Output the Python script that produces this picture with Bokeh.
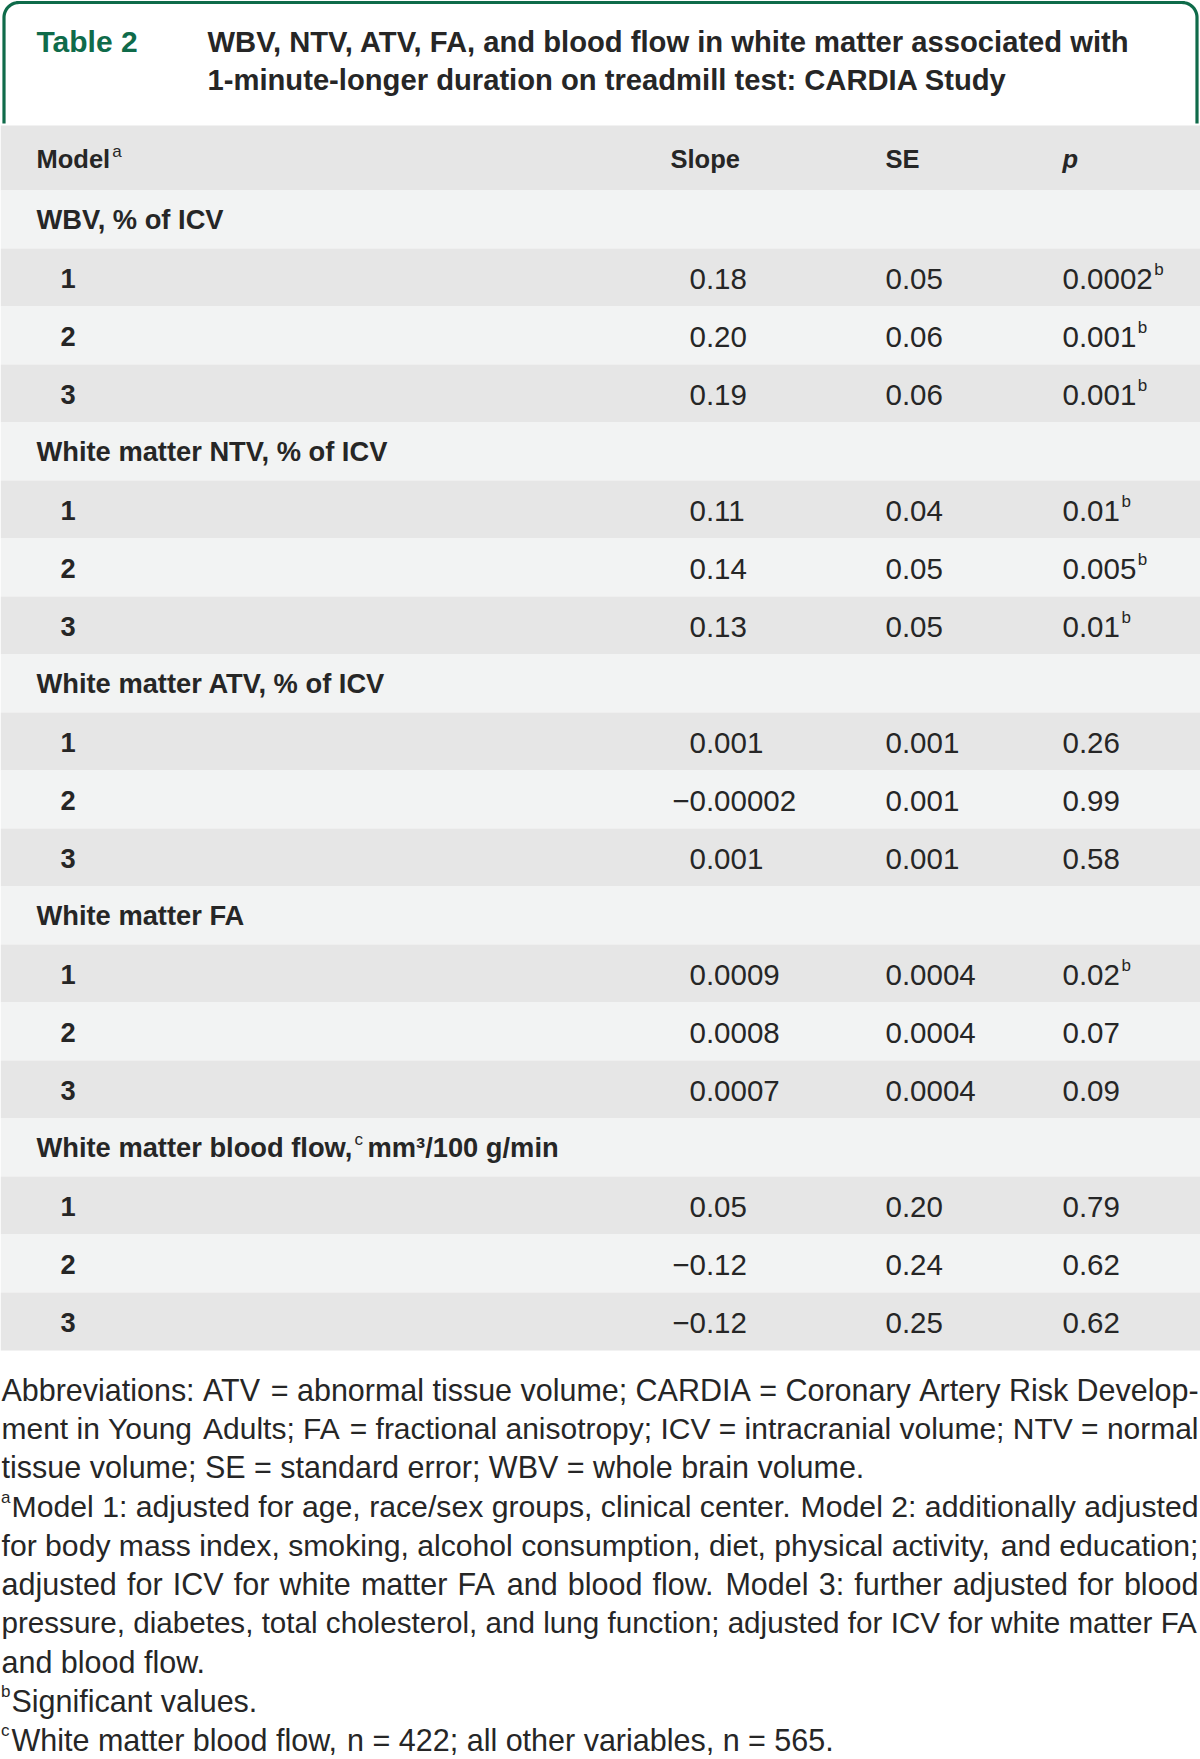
from bokeh.plotting import figure
from bokeh.models import Range1d, ColumnDataSource
from bokeh.core.properties import value
from bokeh.embed import file_html
from bokeh.resources import INLINE
import numpy as np

# ---------------- data ----------------
table_label = "Table 2"
title_lines = ["WBV, NTV, ATV, FA, and blood flow in white matter associated with",
               "1-minute-longer duration on treadmill test: CARDIA Study"]
col_headers = ["Model", "Slope", "SE", "p"]
header_note = "a"
groups = ["WBV, % of ICV", "White matter NTV, % of ICV", "White matter ATV, % of ICV",
          "White matter FA", "White matter blood flow,"]
group_notes = ["", "", "", "", "c"]
group_units = ["", "", "", "", "mm³/100 g/min"]
models = ["1", "2", "3"]
slope_vals = [["0.18", "0.20", "0.19"],
              ["0.11", "0.14", "0.13"],
              ["0.001", "−0.00002", "0.001"],
              ["0.0009", "0.0008", "0.0007"],
              ["0.05", "−0.12", "−0.12"]]
se_vals = [["0.05", "0.06", "0.06"],
           ["0.04", "0.05", "0.05"],
           ["0.001", "0.001", "0.001"],
           ["0.0004", "0.0004", "0.0004"],
           ["0.20", "0.24", "0.25"]]
p_vals = [["0.0002", "0.001", "0.001"],
          ["0.01", "0.005", "0.01"],
          ["0.26", "0.99", "0.58"],
          ["0.02", "0.07", "0.09"],
          ["0.79", "0.62", "0.62"]]
p_sig = [[True, True, True],
         [True, True, True],
         [False, False, False],
         [True, False, False],
         [False, False, False]]
sig_note = "b"
footnotes = [
    ("", "Abbreviations: ATV = abnormal tissue volume; CARDIA = Coronary Artery Risk Develop-", True),
    ("", "ment in Young Adults; FA = fractional anisotropy; ICV = intracranial volume; NTV = normal", True),
    ("", "tissue volume; SE = standard error; WBV = whole brain volume.", False),
    ("a", "Model 1: adjusted for age, race/sex groups, clinical center. Model 2: additionally adjusted", True),
    ("", "for body mass index, smoking, alcohol consumption, diet, physical activity, and education;", True),
    ("", "adjusted for ICV for white matter FA and blood flow. Model 3: further adjusted for blood", True),
    ("", "pressure, diabetes, total cholesterol, and lung function; adjusted for ICV for white matter FA", True),
    ("", "and blood flow.", False),
    ("b", "Significant values.", False),
    ("c", "White matter blood flow, n = 422; all other variables, n = 565.", False),
]

# ---------------- metrics (Arial / Liberation Sans) ----------------
REG = {" ": 278, "!": 278, ",": 278, "-": 333, ".": 278, "/": 278, ":": 278, ";": 278,
       "=": 584, "%": 889, "−": 584, "³": 333,
       "A": 667, "B": 667, "C": 722, "D": 722, "E": 667, "F": 611, "G": 778, "H": 722,
       "I": 278, "J": 500, "K": 667, "L": 556, "M": 833, "N": 722, "O": 778, "P": 667,
       "Q": 778, "R": 722, "S": 667, "T": 611, "U": 722, "V": 667, "W": 944, "X": 667,
       "Y": 667, "Z": 611,
       "a": 556, "b": 556, "c": 500, "d": 556, "e": 556, "f": 278, "g": 556, "h": 556,
       "i": 222, "j": 222, "k": 500, "l": 222, "m": 833, "n": 556, "o": 556, "p": 556,
       "q": 556, "r": 333, "s": 500, "t": 278, "u": 556, "v": 500, "w": 722, "x": 500,
       "y": 500, "z": 500}
for d in "0123456789":
    REG[d] = 556
BOLD = {" ": 278, ",": 278, "M": 833, "W": 944, "a": 556, "b": 611, "d": 611, "e": 556,
        "f": 333, "h": 611, "i": 278, "l": 278, "m": 889, "o": 611, "r": 389, "t": 333,
        "w": 778}


def width(s, size, bold=False):
    tab = BOLD if bold else REG
    return sum(tab.get(ch, 556) for ch in s) * size / 1000.0


# ---------------- layout ----------------
W_REF, H_REF = 1200, 1759
FIG_W, FIG_H = 1200, 1759


def fs(size):
    return value(f"{size:.2f}px")


GREEN = "#0f6b4a"
TEXT = "#262626"
DARK = "#e6e6e6"
LIGHT = "#f2f3f3"
FONT = value("Liberation Sans")

HEAD_SIZE = 25.5
LABEL_SIZE = 27.3
NUM_SIZE = 29.5
SUP_SIZE = 17
FOOT_SIZE = 30.5

X_LABEL, X_MODEL = 36, 60
X_SLOPE, X_SE, X_P = 689, 885, 1062
X_SLOPE_HEAD = 670

HEAD_TOP, ROW_TOP, ROW_H = 125, 190, 58

p = figure(width=FIG_W, height=FIG_H, output_backend="svg", toolbar_location=None,
           x_range=Range1d(0, W_REF), y_range=Range1d(H_REF, 0), min_border=0)
p.axis.visible = False
p.grid.visible = False
p.outline_line_color = None
p.background_fill_color = "white"
p.border_fill_color = "white"

# rows
lefts, rights, tops, bottoms, colors = [0], [W_REF], [HEAD_TOP], [ROW_TOP], [DARK]
lab_x, lab_y, lab_t = [], [], []
num_x, num_y, num_t = [], [], []
sup_x, sup_y, sup_t = [], [], []

r = 0
for gi, g in enumerate(groups):
    top = ROW_TOP + r * ROW_H
    lefts.append(0); rights.append(W_REF); tops.append(top); bottoms.append(top + ROW_H)
    colors.append(LIGHT)
    cy = top + ROW_H / 2
    lab_x.append(X_LABEL); lab_y.append(cy); lab_t.append(g)
    if group_notes[gi]:
        gx = X_LABEL + width(g, LABEL_SIZE, True)
        sup_x.append(gx + 1); sup_y.append(cy - 8); sup_t.append(group_notes[gi])
        lab_x.append(gx + 1 + 13); lab_y.append(cy); lab_t.append(group_units[gi])
    r += 1
    for mi, m in enumerate(models):
        top = ROW_TOP + r * ROW_H
        lefts.append(0); rights.append(W_REF); tops.append(top); bottoms.append(top + ROW_H)
        colors.append(DARK if mi % 2 == 0 else LIGHT)
        cy = top + ROW_H / 2 + 1
        lab_x.append(X_MODEL); lab_y.append(cy); lab_t.append(m)
        sv = slope_vals[gi][mi]
        sx = X_SLOPE - (width("−", NUM_SIZE) if sv.startswith("−") else 0)
        num_x += [sx, X_SE, X_P]
        num_y += [cy, cy, cy]
        num_t += [sv, se_vals[gi][mi], p_vals[gi][mi]]
        if p_sig[gi][mi]:
            sup_x.append(X_P + width(p_vals[gi][mi], NUM_SIZE) + 1.5)
            sup_y.append(cy - 9)
            sup_t.append(sig_note)
        r += 1

p.quad(left=lefts, right=rights, top=tops, bottom=bottoms, fill_color=colors, line_color=None)

# header texts
hy = (HEAD_TOP + ROW_TOP) / 2 + 1
p.text(x=[X_LABEL, X_SLOPE_HEAD, X_SE], y=[hy, hy, hy], text=col_headers[:3],
       text_font=FONT, text_font_size=fs(HEAD_SIZE), text_font_style="bold",
       text_baseline="middle", text_align="left", text_color=TEXT)
sup_x.append(X_LABEL + width(col_headers[0], HEAD_SIZE, True) + 2)
sup_y.append(hy - 8)
sup_t.append(header_note)
p.text(x=[X_P], y=[hy], text=[col_headers[3]], text_font=FONT, text_font_size=fs(HEAD_SIZE),
       text_font_style="bold italic", text_baseline="middle", text_align="left", text_color=TEXT)

p.text(x="x", y="y", text="t", source=ColumnDataSource(dict(x=lab_x, y=lab_y, t=lab_t)),
       text_font=FONT, text_font_size=fs(LABEL_SIZE), text_font_style="bold",
       text_baseline="middle", text_align="left", text_color=TEXT)
p.text(x="x", y="y", text="t", source=ColumnDataSource(dict(x=num_x, y=num_y, t=num_t)),
       text_font=FONT, text_font_size=fs(NUM_SIZE), text_baseline="middle",
       text_align="left", text_color=TEXT)

# title box border
R = 15
th = np.linspace(0, np.pi / 2, 20)
xl, xr, yt, yb = 3.5, 1196.5, 2.0, 123
bx = np.concatenate([[xl], xl + R - R * np.cos(th), xr - R + R * np.sin(th), [xr]])
by = np.concatenate([[yb], yt + R - R * np.sin(th), yt + R - R * np.cos(th), [yb]])
p.line(bx, by, line_color=GREEN, line_width=3.2)

p.text(x=[X_LABEL], y=[41], text=[table_label], text_font=FONT, text_font_size=fs(30),
       text_font_style="bold", text_baseline="middle", text_color=GREEN)
p.text(x=[207, 207], y=[41, 79], text=title_lines, text_font=FONT, text_font_size=fs(29.2),
       text_font_style="bold", text_baseline="middle", text_color=TEXT)

# footnotes (justified word placement)
fx, fy, ft, fsz = [], [], [], []
fy0, fdy = 1389, 38.9
RIGHT = 1198.0
for li, (mark, line, just) in enumerate(footnotes):
    y = fy0 + li * fdy
    left = 1.0
    if mark:
        sup_x.append(0.5); sup_y.append(y - 9); sup_t.append(mark)
        left = 11.0
    words = line.split(" ")
    size = FOOT_SIZE
    natural = width(line, size)
    if natural > RIGHT - left:
        size = size * (RIGHT - left) / natural
    ws = [width(w, size) for w in words]
    if just and len(words) > 1:
        gap = (RIGHT - left - sum(ws)) / (len(words) - 1)
    else:
        gap = width(" ", size)
    x = left
    for w, wd in zip(words, ws):
        fx.append(x); fy.append(y); ft.append(w); fsz.append(f"{size:.2f}px")
        x += wd + gap

p.text(x="x", y="y", text="t", text_font_size="s",
       source=ColumnDataSource(dict(x=fx, y=fy, t=ft, s=fsz)),
       text_font=FONT, text_baseline="middle", text_align="left", text_color=TEXT)

p.text(x="x", y="y", text="t", source=ColumnDataSource(dict(x=sup_x, y=sup_y, t=sup_t)),
       text_font=FONT, text_font_size=fs(SUP_SIZE), text_baseline="middle",
       text_align="left", text_color=TEXT)

open("out.html", "w").write(file_html(p, INLINE))
